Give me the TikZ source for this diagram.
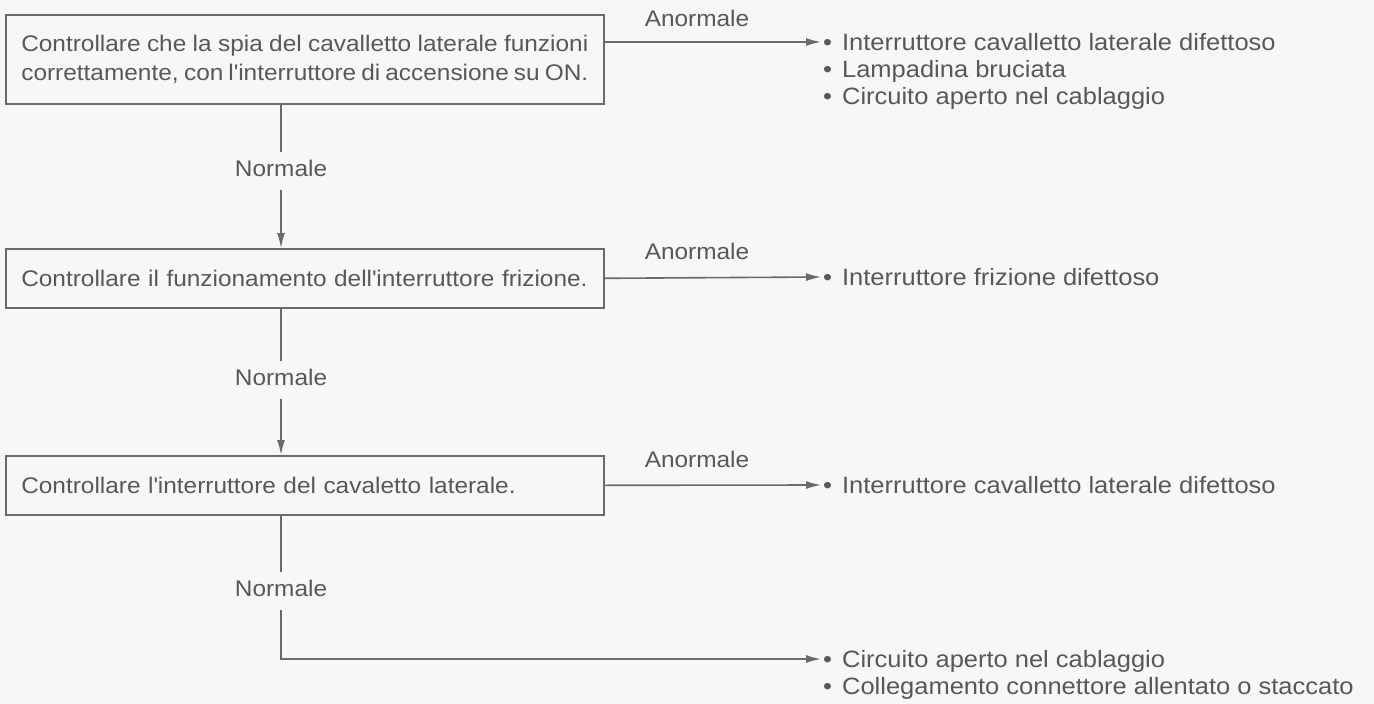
\documentclass[tikz,border=0pt]{standalone}
\usepackage{fontspec}
\setmainfont{Liberation Sans}[FakeStretch=1.08]
\usetikzlibrary{arrows.meta}
\definecolor{ink}{HTML}{585858}
\definecolor{linec}{HTML}{6A6A6A}
\definecolor{paper}{HTML}{F7F7F7}
\newcommand{\apo}{\textquotesingle}
\newcommand{\bul}{•\hspace{10pt}}
\begin{document}
\begin{tikzpicture}[x=1pt,y=-1pt,
  every node/.style={font=\fontsize{22.6}{28.5}\selectfont, text=ink},
  checkbox/.style={draw=linec, line width=1.6pt, rectangle, minimum width=598pt,
    text width=567pt, inner xsep=15.5pt, inner ysep=0pt, anchor=north west},
  conn/.style={draw=linec, line width=1.6pt},
  arr/.style={conn, -{Latex[length=15pt,width=8pt]}},
  lbl/.style={inner xsep=0pt, inner ysep=7pt, text height=17pt, text depth=1pt},
  outcome/.style={anchor=west, inner sep=0pt, text height=17pt, text depth=1pt,
    font=\fontsize{23.6}{27}\selectfont}
]
\fill[paper] (0,0) rectangle (1374,704);
\useasboundingbox (0,0) rectangle (1374,704);

% boxes
\node[checkbox, minimum height=89pt, align=justify] (b1) at (5,14)
  {Controllare che la spia del cavalletto laterale funzioni\linebreak correttamente, con l\apo interruttore di accensione su ON.};
\node[checkbox, minimum height=59pt, align=left] (b2) at (5,248)
  {\mbox{Controllare il funzionamento dell\apo interruttore frizione.}};
\node[checkbox, minimum height=59pt, align=left] (b3) at (5,455)
  {Controllare l\apo interruttore del cavaletto laterale.};

% Normale labels
\node[lbl] (n1) at (281,168) {Normale};
\node[lbl] (n2) at (281,377) {Normale};
\node[lbl] (n3) at (281,588) {Normale};

% Anormale labels
\node[lbl] (a1) at (697,18) {Anormale};
\node[lbl] (a2) at (697,251) {Anormale};
\node[lbl] (a3) at (697,459) {Anormale};

% outcomes
\node[outcome] (o1a) at (823,42) {\bul Interruttore cavalletto laterale difettoso};
\node[outcome] (o1b) at (823,69) {\bul Lampadina bruciata};
\node[outcome] (o1c) at (823,96) {\bul Circuito aperto nel cablaggio};
\node[outcome] (o2a) at (823,277) {\bul Interruttore frizione difettoso};
\node[outcome] (o3a) at (823,485) {\bul Interruttore cavalletto laterale difettoso};
\node[outcome] (o4a) at (823,659) {\bul Circuito aperto nel cablaggio};
\node[outcome] (o4b) at (823,686) {\bul Collegamento connettore allentato o staccato};

% abnormal arrows
\draw[arr] (b1.east |- o1a.west) -- ([xshift=-2pt]o1a.west);
\draw[arr] (b2.east) -- ([xshift=-2pt]o2a.west);
\draw[arr] (b3.east) -- ([xshift=-2pt]o3a.west);

% normal flow
\draw[conn] (b1.south -| n1.center) -- (n1.north);
\draw[arr] ([yshift=-6pt]n1.south) -- (b2.north -| n1.center);
\draw[conn] (b2.south -| n2.center) -- (n2.north);
\draw[arr] ([yshift=-6pt]n2.south) -- (b3.north -| n2.center);
\draw[conn] (b3.south -| n3.center) -- (n3.north);
\draw[arr] ([yshift=-6pt]n3.south) |- ([xshift=-2pt]o4a.west);
\end{tikzpicture}
\end{document}
